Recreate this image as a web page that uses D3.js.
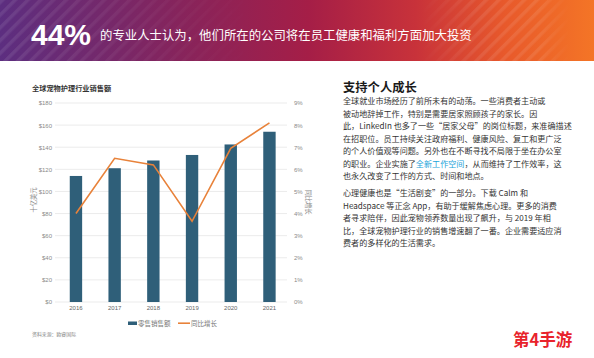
<!DOCTYPE html>
<html><head><meta charset="utf-8">
<script src="https://cdn.jsdelivr.net/npm/d3@7"></script>
<style>
html,body{margin:0;padding:0;background:#fff;}
svg{display:block;}
</style></head>
<body>
<script>
const years = ["2016","2017","2018","2019","2020","2021"];
const sales = [114, 121, 128, 133, 142.5, 154];
const growth = [4.0, 6.5, 6.2, 3.65, 6.95, 8.1];
const leftTicks = [0,20,40,60,80,100,120,140,160,180];
const rightTicks = [0,1,2,3,4,5,6,7,8,9];
const headline = "44%";
const subline = "的专业人士认为，他们所在的公司将在员工健康和福利方面加大投资";
const chartTitle = "全球宠物护理行业销售额";
const leftAxisTitle = "十亿美元";
const rightAxisTitle = "同比增长";
const legendLabels = ["零售销售额","同比增长"];
const source = "资料来源：欧睿国际";
const heading = "支持个人成长";
const para1 = [
  ["全球就业市场经历了前所未有的动荡。一些消费者主动或"],
  ["被动地辞掉工作，特别是需要居家照顾孩子的家长。因"],
  ["此，LinkedIn 也多了一些“居家父母”的岗位标题，来准确描述"],
  ["在招职位。员工持续关注政府福利、健康风险、复工和更广泛"],
  ["的个人价值观等问题。另外也在不断寻找不局限于坐在办公室"],
  ["的职业。企业实施了","全新工作空间","，从而维持了工作效率，这"],
  ["也永久改变了工作的方式、时间和地点。"]
];
const para2 = [
  "心理健康也是“生活剧变”的一部分。下载 Calm 和",
  "Headspace 等正念 App，有助于缓解焦虑心理。更多的消费",
  "者寻求陪伴，因此宠物领养数量出现了飙升，与 2019 年相",
  "比，全球宠物护理行业的销售增速翻了一番。企业需要适应消",
  "费者的多样化的生活需求。"
];
const watermark = "第4手游";

const W = 594, H = 358;
const svg = d3.select("body").append("svg").attr("width", W).attr("height", H);
const defs = svg.append("defs");
const grad = defs.append("linearGradient").attr("id","bg").attr("x1","0").attr("x2","1").attr("y1","0").attr("y2","0");
[["0%","#5c2e80"],["30%","#86245c"],["52%","#a51e47"],["70%","#c8323a"],["85%","#e8592b"],["100%","#f47526"]]
  .forEach(s=>grad.append("stop").attr("offset",s[0]).attr("stop-color",s[1]));
const pat = defs.append("pattern").attr("id","stripes").attr("patternUnits","userSpaceOnUse")
  .attr("width",9).attr("height",9).attr("patternTransform","rotate(45)");
pat.append("rect").attr("width",3.5).attr("height",9).attr("fill","#ffffff").attr("opacity",0.09);
const fadeL = defs.append("linearGradient").attr("id","fadeL");
fadeL.append("stop").attr("offset","0%").attr("stop-color","#fff").attr("stop-opacity",1);
fadeL.append("stop").attr("offset","100%").attr("stop-color","#fff").attr("stop-opacity",0);
const maskL = defs.append("mask").attr("id","mL");
maskL.append("rect").attr("x",0).attr("y",0).attr("width",260).attr("height",61).attr("fill","url(#fadeL)");
const fadeR = defs.append("linearGradient").attr("id","fadeR");
fadeR.append("stop").attr("offset","0%").attr("stop-color","#fff").attr("stop-opacity",0);
fadeR.append("stop").attr("offset","40%").attr("stop-color","#fff").attr("stop-opacity",1);
fadeR.append("stop").attr("offset","80%").attr("stop-color","#fff").attr("stop-opacity",1);
fadeR.append("stop").attr("offset","100%").attr("stop-color","#fff").attr("stop-opacity",0);
const maskR = defs.append("mask").attr("id","mR");
maskR.append("rect").attr("x",420).attr("y",0).attr("width",150).attr("height",61).attr("fill","url(#fadeR)");

svg.append("rect").attr("x",0).attr("y",0).attr("width",W).attr("height",61).attr("fill","url(#bg)");
svg.append("rect").attr("x",0).attr("y",0).attr("width",260).attr("height",61).attr("fill","url(#stripes)").attr("mask","url(#mL)");
svg.append("rect").attr("x",420).attr("y",0).attr("width",150).attr("height",61).attr("fill","url(#stripes)").attr("mask","url(#mR)");

svg.append("text").attr("x",31).attr("y",45).attr("fill","#fff")
  .attr("font-family","Liberation Sans, Arial, sans-serif").attr("font-weight","bold").attr("font-size",30)
  .text(headline);
svg.append("text").attr("x",100).attr("y",40).attr("fill","#fff")
  .attr("font-family","Noto Sans CJK SC").attr("font-size",12.4).text(subline);

// chart
const cjk = "Noto Sans CJK SC";
svg.append("text").attr("x",32).attr("y",91).attr("fill","#333").attr("font-family",cjk)
  .attr("font-weight","bold").attr("font-size",7.2).text(chartTitle);

const x = d3.scaleBand().domain(years).range([56.6,288.8]).paddingInner(0.68).paddingOuter(0.34);
const yL = d3.scaleLinear().domain([0,180]).range([302,103]);
const yR = d3.scaleLinear().domain([0,9]).range([302,103]);

const grid = svg.append("g");
grid.selectAll("line").data(leftTicks).join("line")
  .attr("x1",55).attr("x2",287).attr("y1",d=>yL(d)).attr("y2",d=>yL(d))
  .attr("stroke","#e6e6e6").attr("stroke-width",0.8);

const axL = svg.append("g").attr("transform","translate(52,0)")
  .call(d3.axisLeft(yL).tickValues(leftTicks).tickSize(0).tickPadding(0).tickFormat(d=>"$"+d));
axL.select(".domain").remove();
axL.selectAll("text").attr("font-family","Liberation Sans, Arial").attr("font-size",6).attr("fill","#8a8a8a");

const axR = svg.append("g").attr("transform","translate(294,0)")
  .call(d3.axisRight(yR).tickValues(rightTicks).tickSize(0).tickPadding(0).tickFormat(d=>d+"%"));
axR.select(".domain").remove();
axR.selectAll("text").attr("font-family","Liberation Sans, Arial").attr("font-size",6).attr("fill","#8a8a8a");

const axB = svg.append("g").attr("transform","translate(0,306)")
  .call(d3.axisBottom(x).tickSize(0).tickPadding(0));
axB.select(".domain").remove();
axB.selectAll("text").attr("dy","0.71em").attr("font-family","Liberation Sans, Arial").attr("font-size",6).attr("fill","#666");

svg.append("g").selectAll("rect").data(years).join("rect")
  .attr("x",d=>x(d)).attr("width",x.bandwidth())
  .attr("y",(d,i)=>yL(sales[i])).attr("height",(d,i)=>yL(0)-yL(sales[i]))
  .attr("fill","#2f5f79");

const line = d3.line().x((d,i)=>x(years[i])+x.bandwidth()/2).y(d=>yR(d));
svg.append("path").datum(growth).attr("d",line).attr("fill","none")
  .attr("stroke","#e8823a").attr("stroke-width",1.6).attr("stroke-linejoin","miter");

svg.append("text").attr("transform","translate(36,200) rotate(-90)").attr("text-anchor","middle")
  .attr("font-family",cjk).attr("font-size",6.3).attr("fill","#888").text(leftAxisTitle);
svg.append("text").attr("transform","translate(306,202) rotate(90)").attr("text-anchor","middle")
  .attr("font-family",cjk).attr("font-size",6.3).attr("fill","#888").text(rightAxisTitle);

// legend
const lg = svg.append("g");
lg.append("rect").attr("x",128).attr("y",321.5).attr("width",9).attr("height",3.5).attr("fill","#2f5f79");
lg.append("text").attr("x",138).attr("y",325.5).attr("font-family",cjk).attr("font-size",6.5).attr("fill","#777").text(legendLabels[0]);
lg.append("line").attr("x1",178).attr("x2",190).attr("y1",323.2).attr("y2",323.2).attr("stroke","#e8823a").attr("stroke-width",1.6);
lg.append("text").attr("x",191).attr("y",325.5).attr("font-family",cjk).attr("font-size",6.5).attr("fill","#777").text(legendLabels[1]);

svg.append("text").attr("x",32).attr("y",336).attr("font-family",cjk).attr("font-size",4.9).attr("fill","#888").text(source);

// right text
svg.append("text").attr("x",343).attr("y",92).attr("font-family",cjk).attr("font-weight","bold")
  .attr("font-size",12.3).attr("fill","#1a1a1a").text(heading);
const body = svg.append("g").attr("font-family",cjk).attr("font-size",8.1).attr("fill","#333");
para1.forEach((parts,i)=>{
  const t = body.append("text").attr("x",343).attr("y",104+i*12.5);
  parts.forEach((p,j)=>{
    const ts = t.append("tspan").text(p);
    if (parts.length===3 && j===1) ts.attr("fill","#1aa3d9");
  });
});
para2.forEach((s,i)=>{
  body.append("text").attr("x",343).attr("y",196+i*12.5).text(s);
});

svg.append("text").attr("x",513).attr("y",346).attr("font-family",cjk).attr("font-weight","bold")
  .attr("font-size",16.5).attr("fill","#e8232b").attr("stroke","#fff").attr("stroke-width",0.6)
  .attr("paint-order","stroke").text(watermark);
</script>
</body></html>
